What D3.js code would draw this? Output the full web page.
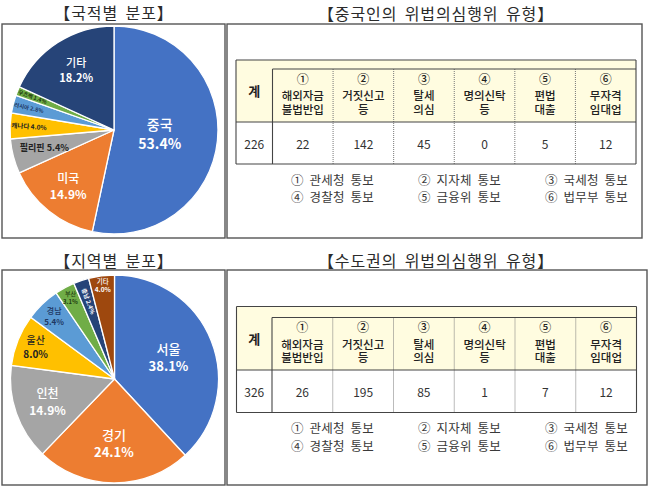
<!DOCTYPE html>
<html>
<head>
<meta charset="utf-8">
<script src="https://cdn.jsdelivr.net/npm/d3@7"></script>
<style>
  html, body { margin: 0; padding: 0; background: #fff; }
  svg { display: block; }
  text { font-family: "Noto Sans CJK KR", "Noto Sans", sans-serif; }
</style>
</head>
<body>
<div id="chart"></div>
<script>
// pie data
var nationNames = ["중국", "미국", "필리핀", "캐나다", "러시아", "우즈벡", "기타"];
var nationValues = [53.4, 14.9, 5.4, 4.0, 2.8, 1.4, 18.2];
var regionNames = ["서울", "경기", "인천", "울산", "경남", "부산", "충남", "기타"];
var regionValues = [38.1, 24.1, 14.9, 8.0, 5.4, 3.1, 2.4, 4.0];

// table data
var typeHeaders = [
  ["①", "해외자금", "불법반입"],
  ["②", "거짓신고", "등"],
  ["③", "탈세", "의심"],
  ["④", "명의신탁", "등"],
  ["⑤", "편법", "대출"],
  ["⑥", "무자격", "임대업"]
];
var chinaTotal = 226;
var chinaCounts = [22, 142, 45, 0, 5, 12];
var metroTotal = 326;
var metroCounts = [26, 195, 85, 1, 7, 12];
var agencyNotes = [
  ["① 관세청 통보", "② 지자체 통보", "③ 국세청 통보"],
  ["④ 경찰청 통보", "⑤ 금융위 통보", "⑥ 법무부 통보"]
];

var nationColors = ["#4472c4", "#ed7d31", "#a5a5a5", "#ffc000", "#5b9bd5", "#70ad47", "#264478"];
var regionColors = ["#4472c4", "#ed7d31", "#a5a5a5", "#ffc000", "#5b9bd5", "#70ad47", "#264478", "#9e480e"];

// label styling per slice: r = distance from centre, size, fill, rot, one = single line
var nationLabels = [
  {r: 46, size: 14, fill: "#fff"},
  {r: 73, size: 12, fill: "#fff"},
  {r: 72, size: 9, fill: "#222", rot: 0, one: true},
  {r: 85, size: 6.5, fill: "#222", rot: 4, one: true},
  {r: 88, size: 5.5, fill: "#1f3864", rot: 12, one: true},
  {r: 88, size: 5.5, fill: "#1e3b10", rot: 20, one: true},
  {r: 70, size: 11, fill: "#fff"}
];
var regionLabels = [
  {r: 58, size: 13, fill: "#fff"},
  {r: 65, size: 13, fill: "#fff"},
  {r: 71, size: 12, fill: "#fff"},
  {r: 85, size: 10, fill: "#222"},
  {r: 87, size: 8, fill: "#1f3864"},
  {r: 92, size: 6, fill: "#1e3b10"},
  {r: 82, size: 6, fill: "#fff", rot: 70, one: true},
  {r: 94, size: 6.5, fill: "#fff"}
];

var svg = d3.select("#chart").append("svg")
  .attr("width", 650)
  .attr("height", 487)
  .style("background", "#fff");

var headFill = "#fffce0",
  lineDark = "#444",
  textDark = "#333";

function drawFrame(x0, y0, x1, y1) {
  svg.append("rect")
    .attr("x", x0)
    .attr("y", y0)
    .attr("width", x1 - x0)
    .attr("height", y1 - y0)
    .attr("fill", "#fff")
    .attr("stroke", "#555")
    .attr("stroke-width", 1.4);
}

function drawTitle(label, x, y, size) {
  svg.append("text")
    .text(label)
    .attr("x", x)
    .attr("y", y)
    .attr("font-size", size)
    .attr("fill", "#2b2b2b")
    .attr("text-anchor", "middle")
    .attr("dominant-baseline", "central")
    .style("letter-spacing", "0.9px")
    .style("word-spacing", "3px");
}

function drawPie(names, values, colors, labels, cx, cy, radius) {
  var g = svg.append("g").attr("transform", "translate(" + cx + "," + cy + ")");
  var slices = d3.pie().sort(null).value(function(d) { return d; })(values);
  var arc = d3.arc().innerRadius(0).outerRadius(radius);

  g.selectAll("path")
    .data(slices)
    .enter()
    .append("path")
    .attr("d", arc)
    .attr("fill", function(d, i) { return colors[i]; })
    .attr("stroke", "#fff")
    .attr("stroke-width", 1.3);

  slices.forEach(function(d, i) {
    var l = labels[i];
    var mid = (d.startAngle + d.endAngle) / 2;
    var x = Math.sin(mid) * l.r,
      y = -Math.cos(mid) * l.r;
    var pct = values[i].toFixed(1) + "%";
    var t = g.append("text")
      .attr("transform", "translate(" + x + "," + y + ") rotate(" + (l.rot || 0) + ")")
      .attr("fill", l.fill)
      .attr("font-size", l.size)
      .attr("font-weight", 700)
      .attr("text-anchor", "middle");
    if (l.one) {
      t.text(names[i] + " " + pct).attr("y", l.size * 0.35);
    } else {
      t.append("tspan").text(names[i]).attr("x", 0).attr("y", -l.size * 0.33).attr("font-weight", 500);
      t.append("tspan").text(pct).attr("x", 0).attr("y", l.size * 1.03);
    }
  });
}

function drawTable(total, counts, x0, x1, xSplit, y0, yInner, yHead, y1) {
  var band = d3.scaleBand()
    .domain(d3.range(typeHeaders.length))
    .range([xSplit, x1]);

  // header background
  svg.append("rect")
    .attr("x", x0).attr("y", y0)
    .attr("width", x1 - x0).attr("height", yHead - y0)
    .attr("fill", headFill);

  // column dividers
  svg.selectAll(null)
    .data(d3.range(1, typeHeaders.length))
    .enter()
    .append("line")
    .attr("x1", function(d) { return band(d); })
    .attr("x2", function(d) { return band(d); })
    .attr("y1", yInner).attr("y2", y1)
    .attr("stroke", "#777")
    .attr("stroke-dasharray", "1,1");

  // header rules and outline
  var rules = [[x0, y0, x1, y0], [xSplit, yInner, x1, yInner], [x0, yHead, x1, yHead], [x0, y1, x1, y1],
    [x0, y0, x0, y1], [x1, y0, x1, y1], [xSplit, yInner, xSplit, y1]];
  svg.selectAll(null)
    .data(rules)
    .enter()
    .append("line")
    .attr("x1", function(d) { return d[0]; })
    .attr("y1", function(d) { return d[1]; })
    .attr("x2", function(d) { return d[2]; })
    .attr("y2", function(d) { return d[3]; })
    .attr("stroke", lineDark)
    .attr("stroke-width", 1.1);

  svg.append("text")
    .text("계")
    .attr("x", (x0 + xSplit) / 2)
    .attr("y", yInner + 21)
    .attr("font-size", 13)
    .attr("font-weight", 700)
    .attr("fill", "#222")
    .attr("text-anchor", "middle")
    .attr("dominant-baseline", "central");

  typeHeaders.forEach(function(lines, i) {
    var cx = band(i) + band.bandwidth() / 2;
    var t = svg.append("text")
      .attr("font-weight", 500)
      .attr("fill", "#222")
      .attr("text-anchor", "middle");
    lines.forEach(function(line, j) {
      t.append("tspan")
        .text(line)
        .attr("x", cx)
        .attr("y", yInner + 14.5 + (j === 0 ? 0 : 3 + j * 13.5))
        .attr("font-size", j === 0 ? 12 : 11.5);
    });
  });

  var yVal = (yHead + y1) / 2;
  svg.append("text")
    .text(total)
    .attr("x", (x0 + xSplit) / 2)
    .attr("y", yVal)
    .attr("font-size", 12)
    .attr("fill", textDark)
    .attr("text-anchor", "middle")
    .attr("dominant-baseline", "central");

  svg.selectAll(null)
    .data(counts)
    .enter()
    .append("text")
    .text(function(d) { return d; })
    .attr("x", function(d, i) { return band(i) + band.bandwidth() / 2; })
    .attr("y", yVal)
    .attr("font-size", 12)
    .attr("fill", textDark)
    .attr("text-anchor", "middle")
    .attr("dominant-baseline", "central");
}

function drawNotes(y0, y1) {
  var xs = [291, 418, 545];
  agencyNotes.forEach(function(row, r) {
    row.forEach(function(note, c) {
      svg.append("text")
        .text(note)
        .attr("x", xs[c])
        .attr("y", (r === 0 ? y0 : y1) + 4.5)
        .attr("font-size", 12.5)
        .attr("fill", "#3a3a3a")
        .style("letter-spacing", "0.3px")
        .style("word-spacing", "2.5px");
    });
  });
}

// top row
drawFrame(2, 24, 225, 238);
drawFrame(227, 24, 642, 238);
drawTitle("【국적별 분포】", 114, 12, 16);
drawTitle("【중국인의 위법의심행위 유형】", 436, 12.5, 16);
drawPie(nationNames, nationValues, nationColors, nationLabels, 114, 130, 104);
drawTable(chinaTotal, chinaCounts, 236, 636, 272.5, 60, 69, 122, 164);
drawNotes(180, 197);

// bottom row
drawFrame(2, 270, 225, 485);
drawFrame(227, 270, 647, 485);
drawTitle("【지역별 분포】", 114, 260, 16);
drawTitle("【수도권의 위법의심행위 유형】", 436, 260, 16);
drawPie(regionNames, regionValues, regionColors, regionLabels, 114.5, 379, 104);
drawTable(metroTotal, metroCounts, 236.5, 636.5, 272, 306.5, 317.5, 370, 412.5);
drawNotes(428, 446);
</script>
</body>
</html>
